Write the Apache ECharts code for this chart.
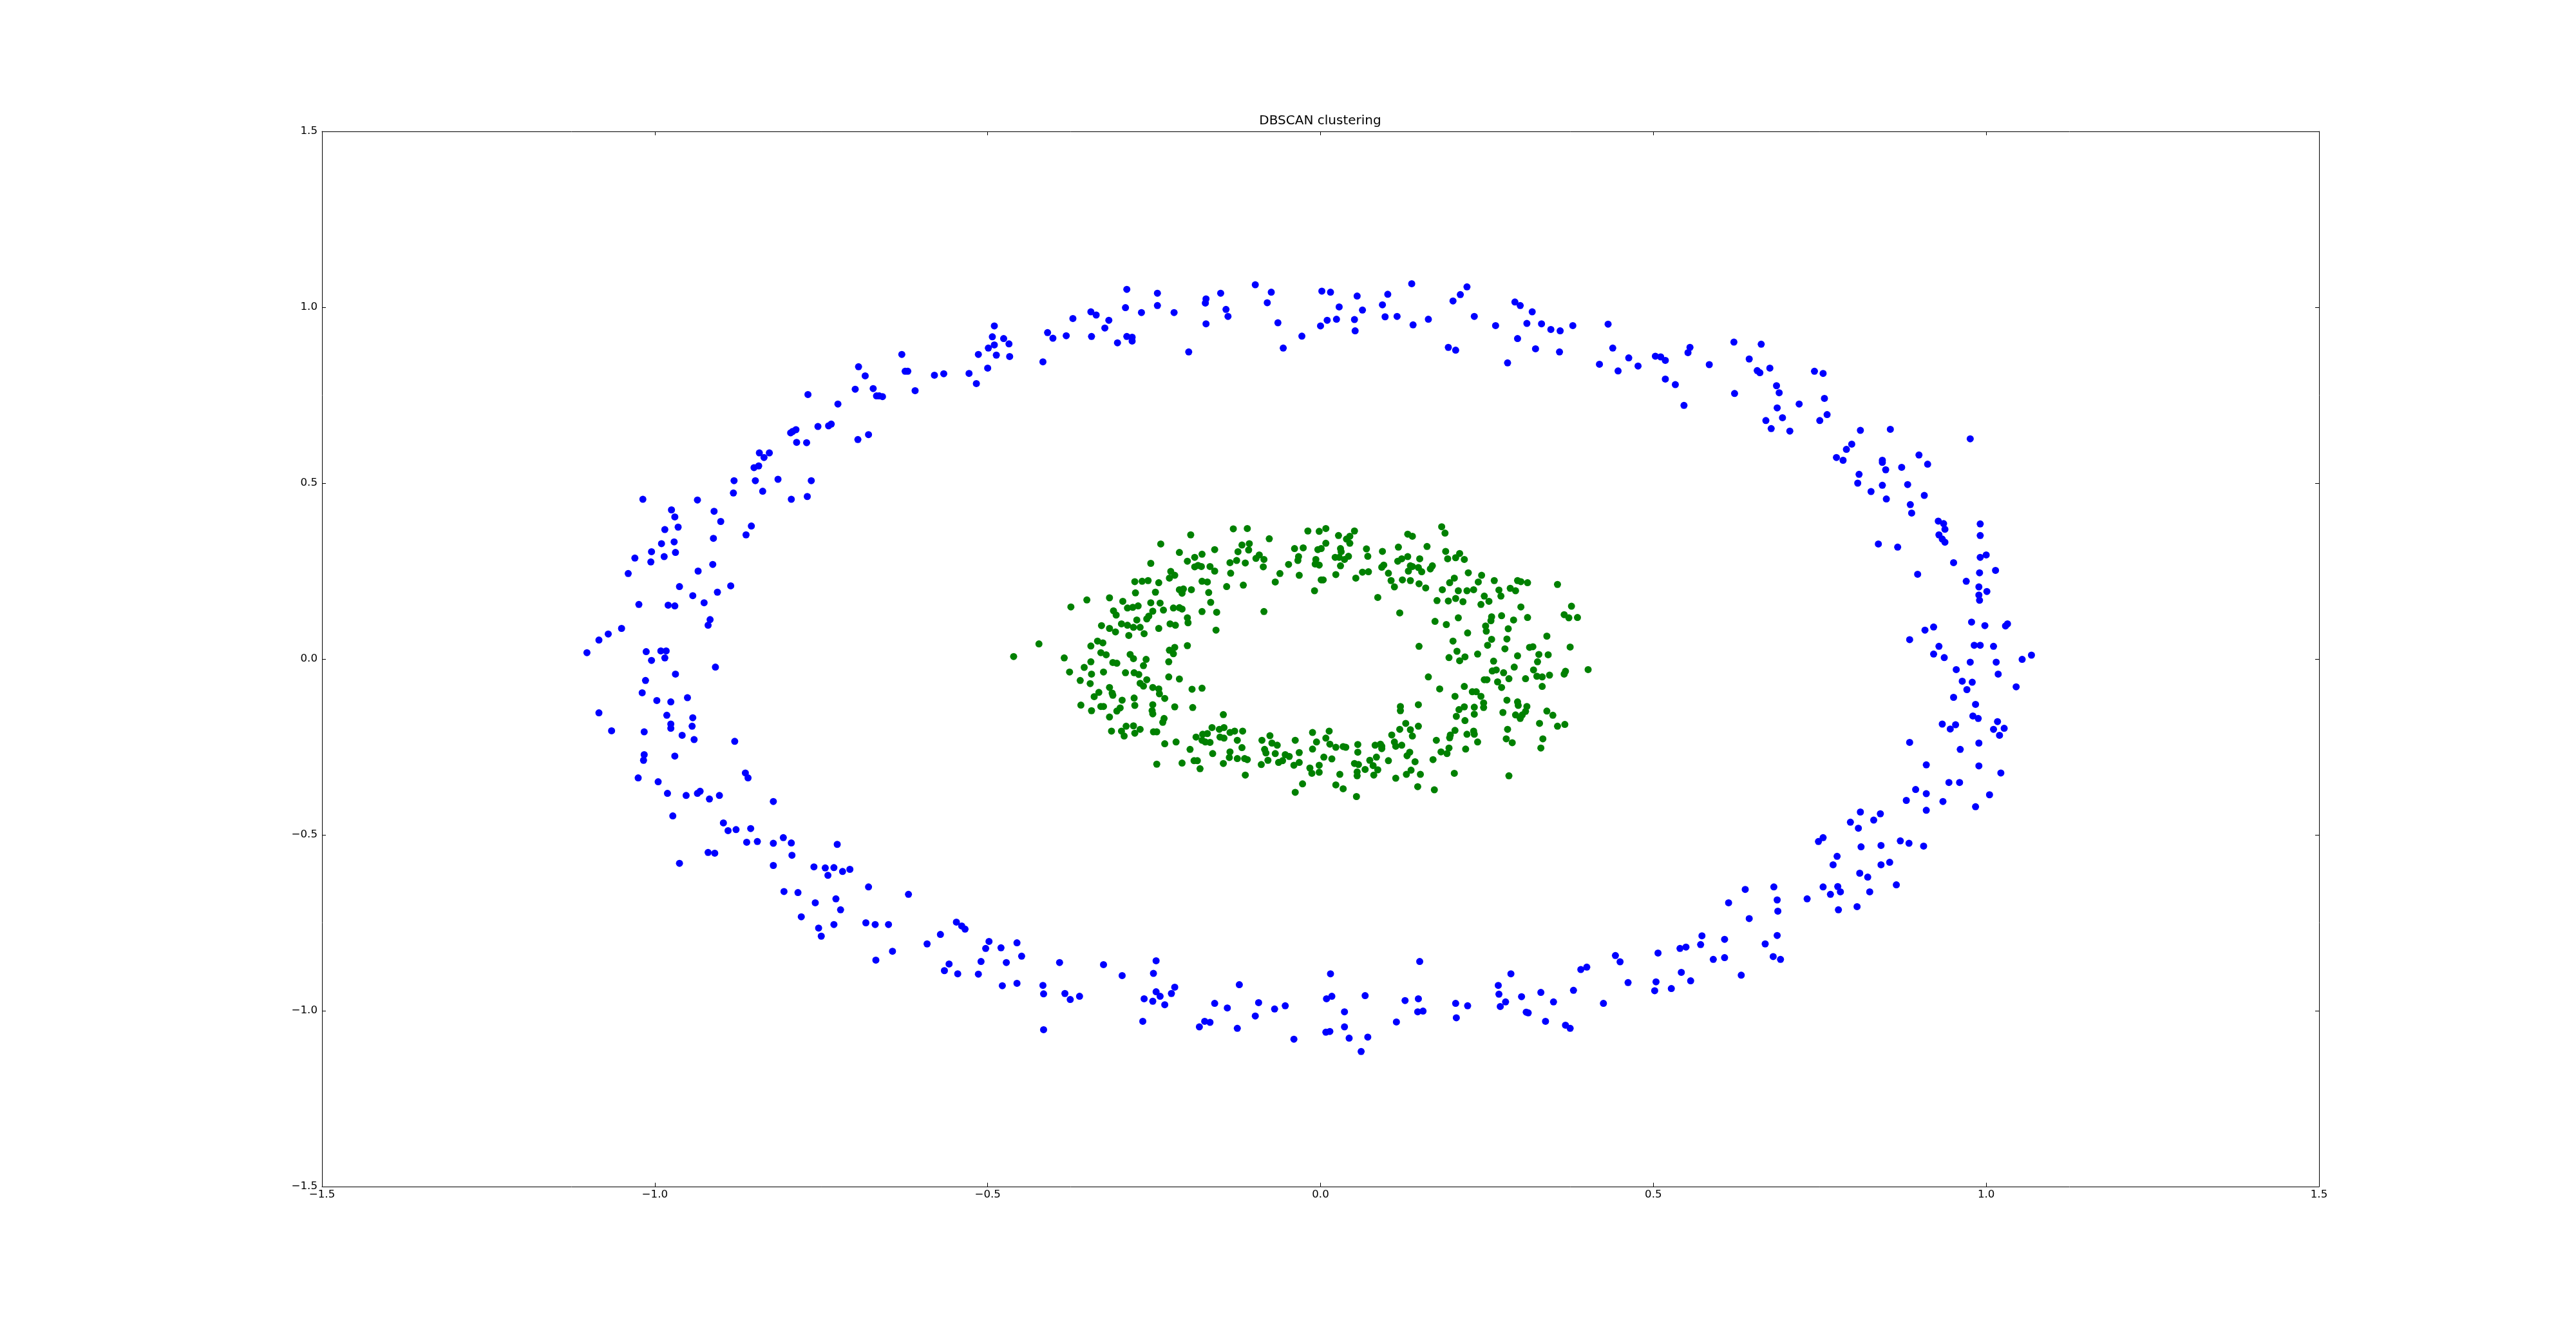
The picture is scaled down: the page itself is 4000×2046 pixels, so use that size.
<!DOCTYPE html>
<html>
<head>
<meta charset="utf-8">
<script src="https://cdn.jsdelivr.net/npm/echarts@6/dist/echarts.min.js"></script>
<style>html,body{margin:0;padding:0;background:#fff}#chart{width:4000px;height:2046px}</style>
</head>
<body>
<div id="chart"></div>
<script>
const titleText = 'DBSCAN clustering';
const axisMin = -1.5;
const axisMax = 1.5;
const tickStep = 0.5;
const clusterColors = ['#0000ff', '#008000'];

// cluster 0 (outer ring, blue)
const outerCluster = [
[-0.490,0.947],[-0.410,0.928],[-0.402,0.912],[-0.493,0.916],[-0.476,0.911],[-0.490,0.893],[-0.468,0.896],[-0.499,0.884],[-0.514,0.866],[-0.487,0.864],[-0.467,0.860],[-0.417,0.845],[-0.629,0.866],[-0.694,0.831],[-0.624,0.818],[-0.620,0.818],[-0.684,0.805],[-0.580,0.807],[-0.566,0.811],[-0.528,0.812],[-0.500,0.827],[-0.517,0.783],[-0.699,0.767],[-0.672,0.769],[-0.667,0.748],[-0.663,0.748],[-0.658,0.746],[-0.609,0.763],[-0.770,0.752],[-0.725,0.725],[-0.755,0.661],[-0.739,0.663],[-0.735,0.668],[-0.796,0.643],[-0.793,0.647],[-0.788,0.652],[-0.787,0.616],[-0.772,0.615],[-0.695,0.624],[-0.679,0.638],[-0.843,0.586],[-0.828,0.586],[-0.836,0.573],[-0.851,0.544],[-0.844,0.549],[-0.881,0.507],[-0.849,0.507],[-0.815,0.511],[-0.765,0.507],[-0.882,0.472],[-0.838,0.477],[-0.795,0.454],[-0.771,0.462],[-1.018,0.454],[-0.936,0.452],[-0.975,0.424],[-0.970,0.404],[-0.911,0.420],[-0.901,0.391],[-0.855,0.378],[-0.863,0.353],[-0.985,0.368],[-0.965,0.375],[-0.990,0.328],[-0.971,0.333],[-0.912,0.343],[-1.005,0.305],[-0.969,0.303],[-1.030,0.287],[-0.986,0.291],[-1.006,0.276],[-1.040,0.243],[-0.913,0.269],[-0.935,0.250],[-0.963,0.206],[-0.886,0.208],[-0.906,0.190],[-0.943,0.180],[-0.926,0.160],[-1.024,0.155],[-0.980,0.153],[-0.970,0.151],[-0.917,0.112],[-0.920,0.096],[-1.050,0.087],[-1.070,0.071],[-1.084,0.054],[-1.102,0.018],[-1.013,0.021],[-0.991,0.023],[-0.983,0.023],[-1.005,-0.004],[-0.985,0.003],
[-0.382,0.919],[-0.372,0.968],[-0.345,0.987],[-0.337,0.978],[-0.344,0.917],[-0.318,0.963],[-0.324,0.941],[-0.305,0.899],[-0.291,1.051],[-0.293,0.999],[-0.291,0.917],[-0.283,0.915],[-0.283,0.904],[-0.269,0.985],[-0.245,1.040],[-0.245,1.005],[-0.220,0.985],[-0.198,0.873],[-0.173,1.012],[-0.172,1.024],[-0.172,0.953],[-0.150,1.040],[-0.142,0.994],[-0.139,0.974],[-0.098,1.064],[-0.074,1.043],[-0.080,1.013],[-0.064,0.956],[-0.056,0.884],[-0.028,0.918],[0.002,1.046],[0.015,1.043],[0.028,1.001],[0.000,0.947],[0.010,0.963],[0.024,0.966],[0.055,1.032],[0.063,0.992],[0.051,0.965],[0.052,0.933],[0.101,1.037],[0.093,1.007],[0.097,0.973],[0.115,0.974],[0.137,1.067],[0.139,0.950],[0.162,0.966],[0.210,1.036],[0.220,1.058],[0.199,1.018],[0.231,0.974],[0.192,0.886],[0.203,0.878],[0.263,0.948],[0.292,1.015],[0.300,1.005],[0.318,0.987],[0.310,0.954],[0.296,0.911],[0.332,0.953],[0.323,0.882],[0.281,0.842],
[0.346,0.937],[0.360,0.933],[0.379,0.948],[0.432,0.952],[0.359,0.873],[0.439,0.884],[0.419,0.838],[0.447,0.819],[0.463,0.856],[0.477,0.833],[0.503,0.861],[0.511,0.859],[0.518,0.849],[0.552,0.871],[0.555,0.886],[0.518,0.796],[0.533,0.780],[0.546,0.721],[0.584,0.837],[0.621,0.901],[0.662,0.895],[0.622,0.755],[0.644,0.853],[0.656,0.820],[0.660,0.814],[0.675,0.827],[0.685,0.777],[0.689,0.757],[0.686,0.714],[0.719,0.725],[0.694,0.686],[0.669,0.678],[0.677,0.655],[0.705,0.648],[0.742,0.818],[0.755,0.812],[0.757,0.741],[0.761,0.695],[0.750,0.678],[0.811,0.650],[0.856,0.653],[0.798,0.611],[0.790,0.596],[0.775,0.573],[0.785,0.565],[0.844,0.565],[0.844,0.559],[0.849,0.538],[0.873,0.545],[0.899,0.580],[0.912,0.554],[0.976,0.626],[0.809,0.525],[0.807,0.500],[0.827,0.476],[0.844,0.494],[0.850,0.455],[0.882,0.496],[0.907,0.465],[0.886,0.439],[0.888,0.415],[0.928,0.392],[0.936,0.385],[0.938,0.369],[0.929,0.353],[0.934,0.341],[0.938,0.332],[0.991,0.384],[0.991,0.351],[0.838,0.327],[0.867,0.318],[1.000,0.296],[0.991,0.289],[0.951,0.274],[0.897,0.241],[0.990,0.245],[1.014,0.252],[0.970,0.221],[0.989,0.205],[1.001,0.192],[0.989,0.182],[0.990,0.167],[0.978,0.105],[0.998,0.095],[1.029,0.094],[1.032,0.100],[0.908,0.082],[0.921,0.091],[0.885,0.055],[0.929,0.036],[0.982,0.039],[0.991,0.039],[1.011,0.036],[0.921,0.014],[0.937,0.004],[0.976,-0.009],[1.015,-0.009],[1.054,-0.001],[1.068,0.011],
[-0.909,-0.023],[-0.969,-0.043],[-1.014,-0.061],[-1.019,-0.096],[-0.997,-0.118],[-0.976,-0.122],[-0.951,-0.110],[-1.084,-0.153],[-0.982,-0.160],[-0.943,-0.167],[-0.976,-0.185],[-0.976,-0.197],[-0.944,-0.191],[-1.065,-0.204],[-1.016,-0.207],[-0.959,-0.217],[-0.941,-0.229],[-0.880,-0.234],[-1.016,-0.272],[-1.017,-0.288],[-0.970,-0.276],[-0.864,-0.324],[-0.860,-0.338],[-1.025,-0.338],[-0.995,-0.349],[-0.981,-0.382],[-0.953,-0.388],[-0.936,-0.382],[-0.932,-0.376],[-0.918,-0.398],[-0.903,-0.388],[-0.822,-0.405],[-0.973,-0.446],[-0.897,-0.466],[-0.890,-0.488],[-0.878,-0.485],[-0.856,-0.482],[-0.862,-0.521],[-0.846,-0.519],[-0.822,-0.524],[-0.807,-0.508],[-0.795,-0.523],[-0.794,-0.558],[-0.726,-0.527],[-0.920,-0.550],[-0.910,-0.552],[-0.963,-0.581],[-0.822,-0.587],[-0.761,-0.591],[-0.744,-0.594],[-0.731,-0.593],[-0.740,-0.615],[-0.718,-0.604],[-0.707,-0.598],[-0.679,-0.648],[-0.619,-0.669],[-0.806,-0.661],[-0.785,-0.664],[-0.759,-0.693],[-0.728,-0.682],[-0.721,-0.713],[-0.780,-0.733],[-0.754,-0.765],[-0.750,-0.788],[-0.731,-0.755],[-0.683,-0.750],[-0.669,-0.755],[-0.649,-0.755],[-0.547,-0.748],[-0.539,-0.759],[-0.534,-0.768],[-0.571,-0.783],[-0.591,-0.810],[-0.643,-0.831],[-0.668,-0.856],[-0.498,-0.803],[-0.503,-0.823],[-0.480,-0.821],[-0.456,-0.807],[-0.449,-0.845],[-0.510,-0.860],[-0.472,-0.863],[-0.558,-0.867],[-0.565,-0.886],[-0.545,-0.895],[-0.514,-0.896],[-0.478,-0.929],[-0.456,-0.922],[-0.417,-0.928],[-0.416,-0.952],[-0.416,-1.054],
[-0.392,-0.863],[-0.326,-0.869],[-0.247,-0.858],[-0.298,-0.900],[-0.251,-0.894],[-0.384,-0.951],[-0.376,-0.968],[-0.362,-0.959],[-0.247,-0.946],[-0.241,-0.959],[-0.265,-0.966],[-0.252,-0.973],[-0.234,-0.983],[-0.224,-0.951],[-0.219,-0.933],[-0.267,-1.030],[-0.122,-0.926],[-0.159,-0.979],[-0.140,-0.992],[-0.093,-0.977],[-0.053,-0.986],[-0.069,-0.995],[-0.098,-1.015],[-0.174,-1.030],[-0.166,-1.033],[-0.182,-1.046],[-0.125,-1.050],[-0.040,-1.081],[0.015,-0.895],[0.017,-0.959],[0.009,-0.966],[0.067,-0.957],[0.036,-1.003],[0.036,-1.046],[0.008,-1.061],[0.014,-1.059],[0.043,-1.078],[0.071,-1.075],[0.061,-1.116],[0.149,-0.860],[0.127,-0.971],[0.147,-0.966],[0.146,-1.003],[0.154,-1.001],[0.114,-1.032],[0.203,-0.979],[0.221,-0.986],[0.204,-1.020],[0.286,-0.895],[0.267,-0.928],[0.268,-0.953],[0.278,-0.975],[0.270,-0.988],[0.302,-0.960],[0.331,-0.948],[0.309,-1.004],[0.312,-1.006],[0.338,-1.030],
[0.955,-0.030],[1.018,-0.043],[0.964,-0.063],[0.979,-0.066],[0.971,-0.087],[1.045,-0.079],[0.951,-0.109],[0.984,-0.129],[0.980,-0.162],[0.988,-0.169],[0.934,-0.185],[0.946,-0.199],[0.954,-0.187],[1.017,-0.178],[1.011,-0.200],[1.027,-0.197],[1.020,-0.217],[0.885,-0.237],[0.989,-0.239],[0.961,-0.257],[0.910,-0.301],[0.989,-0.304],[1.022,-0.324],[0.944,-0.351],[0.960,-0.351],[0.894,-0.371],[0.910,-0.383],[0.880,-0.402],[0.935,-0.405],[1.005,-0.386],[0.910,-0.430],[0.984,-0.420],[0.811,-0.435],[0.841,-0.440],[0.796,-0.464],[0.808,-0.481],[0.831,-0.458],[0.755,-0.508],[0.748,-0.519],[0.812,-0.534],[0.842,-0.530],[0.871,-0.517],[0.884,-0.524],[0.906,-0.532],[0.776,-0.561],[0.770,-0.585],[0.842,-0.585],[0.855,-0.578],[0.810,-0.609],[0.822,-0.620],[0.755,-0.648],[0.777,-0.647],[0.766,-0.669],[0.781,-0.662],[0.825,-0.662],[0.865,-0.642],[0.778,-0.713],[0.806,-0.704],[0.731,-0.682],[0.686,-0.685],[0.681,-0.648],[0.687,-0.717],[0.638,-0.655],[0.613,-0.693],[0.644,-0.738],[0.686,-0.786],[0.668,-0.810],[0.680,-0.846],[0.691,-0.854],[0.573,-0.787],[0.607,-0.797],[0.571,-0.812],[0.540,-0.823],[0.549,-0.819],[0.507,-0.836],[0.443,-0.843],[0.450,-0.861],[0.607,-0.849],[0.590,-0.854],[0.632,-0.899],[0.542,-0.891],[0.556,-0.915],[0.504,-0.918],[0.502,-0.943],[0.527,-0.937],[0.462,-0.920],[0.400,-0.876],[0.391,-0.883],[0.380,-0.942],[0.425,-0.979],[0.350,-0.975],[0.368,-1.041],[0.375,-1.050]
];

// cluster 1 (inner ring, green)
const innerCluster = [
[-0.461,0.007],[-0.423,0.043],[-0.375,0.148],[-0.351,0.168],[-0.385,0.003],[-0.377,-0.037],[-0.361,-0.061],[-0.346,-0.070],[-0.355,-0.024],[-0.345,-0.008],[-0.344,-0.043],[-0.326,-0.037],[-0.345,0.037],[-0.335,0.051],[-0.327,0.046],[-0.330,0.018],[-0.322,0.012],[-0.360,-0.131],[-0.344,-0.147],[-0.340,-0.107],[-0.333,-0.095],[-0.317,-0.081],[-0.313,-0.097],[-0.312,-0.103],[-0.298,-0.117],[-0.317,-0.165],[-0.330,-0.135],[-0.326,-0.135],[-0.306,-0.148],[-0.301,-0.139],[-0.314,-0.205],[-0.299,-0.205],[-0.295,-0.219],[-0.292,-0.191],[-0.281,-0.190],[-0.279,-0.211],[-0.271,-0.200],[-0.280,-0.111],[-0.279,-0.132],[-0.252,-0.130],[-0.253,-0.147],[-0.252,-0.156],[-0.237,-0.180],[-0.235,-0.169],[-0.251,-0.207],[-0.246,-0.207],[-0.234,-0.241],[-0.217,-0.236],[-0.246,-0.299],[-0.219,-0.136],[-0.192,-0.138],[-0.193,-0.086],[-0.178,-0.083],[-0.212,-0.057],[-0.228,-0.051],[-0.228,-0.008],[-0.221,0.015],[-0.227,0.025],[-0.219,0.033],[-0.200,0.038],[-0.286,0.013],[-0.281,0.001],[-0.262,-0.001],[-0.266,-0.019],[-0.293,-0.039],[-0.280,-0.039],[-0.273,-0.044],[-0.261,-0.059],[-0.271,-0.069],[-0.266,-0.077],[-0.252,-0.081],[-0.243,-0.085],[-0.242,-0.099],[-0.234,-0.112],[-0.312,-0.010],[-0.306,-0.012],[-0.329,0.095],[-0.317,0.087],[-0.308,0.077],[-0.299,0.100],[-0.290,0.096],[-0.281,0.090],[-0.271,0.090],[-0.288,0.067],[-0.265,0.072],[-0.243,0.087],[-0.276,0.111],[-0.261,0.114],[-0.258,0.122],[-0.252,0.136],[-0.236,0.139],[-0.255,0.160],[-0.241,0.159],[-0.221,0.145],[-0.212,0.146],[-0.208,0.142],[-0.226,0.100],[-0.218,0.096],[-0.200,0.117],[-0.199,0.103],[-0.178,0.135],[-0.156,0.133],[-0.157,0.082],[-0.165,0.161],[-0.168,0.189],[-0.248,0.190],[-0.278,0.188],[-0.317,0.174],[-0.297,0.164],[-0.311,0.137],[-0.307,0.125],[-0.290,0.145],[-0.282,0.147],[-0.274,0.151],[-0.279,0.220],[-0.268,0.221],[-0.259,0.223],[-0.243,0.217],[-0.255,0.272],[-0.240,0.327],[-0.212,0.303],[-0.195,0.353],[-0.200,0.278],[-0.189,0.289],[-0.178,0.298],[-0.189,0.262],[-0.184,0.266],[-0.179,0.263],[-0.166,0.263],[-0.159,0.250],[-0.159,0.311],[-0.227,0.230],[-0.225,0.249],[-0.219,0.238],[-0.212,0.197],[-0.206,0.199],[-0.208,0.187],[-0.194,0.197],[-0.178,0.221],[-0.170,0.219],[-0.141,0.206],[-0.116,0.210],[-0.135,0.244],[-0.136,0.274],[-0.126,0.280],[-0.113,0.273],[-0.124,0.305],[-0.118,0.324],[-0.108,0.310],[-0.107,0.328],[-0.131,0.370],[-0.110,0.371],[-0.077,0.342],[-0.097,0.286],[-0.092,0.296],[-0.085,0.283],[-0.086,0.262],[-0.068,0.219],[-0.061,0.243],[-0.048,0.269],[-0.039,0.314],[-0.085,0.135],[-0.146,-0.158],[-0.163,-0.195],[-0.152,-0.200],[-0.145,-0.195],[-0.136,-0.209],[-0.129,-0.205],[-0.117,-0.205],[-0.187,-0.222],[-0.177,-0.214],[-0.170,-0.212],[-0.178,-0.231],[-0.173,-0.236],[-0.166,-0.237],[-0.151,-0.222],[-0.145,-0.225],[-0.125,-0.231],[-0.118,-0.252],[-0.136,-0.264],[-0.137,-0.280],[-0.125,-0.283],[-0.114,-0.283],[-0.110,-0.286],[-0.196,-0.257],[-0.162,-0.269],[-0.190,-0.289],[-0.185,-0.289],[-0.181,-0.312],[-0.208,-0.296],[-0.146,-0.297],[-0.113,-0.330],[-0.088,-0.231],[-0.076,-0.218],[-0.073,-0.239],[-0.065,-0.245],[-0.084,-0.257],[-0.082,-0.267],[-0.068,-0.269],[-0.079,-0.288],[-0.089,-0.300],[-0.063,-0.294],[-0.057,-0.289],[-0.053,-0.272],[-0.047,-0.277],[-0.038,-0.231],[-0.040,-0.302],[-0.038,-0.379],
[-0.019,0.364],[-0.002,0.363],[0.008,0.371],[0.027,0.351],[0.039,0.341],[0.044,0.349],[0.051,0.364],[0.044,0.329],[0.008,0.329],[-0.026,0.316],[-0.033,0.291],[-0.034,0.280],[-0.032,0.238],[-0.007,0.283],[-0.002,0.267],[-0.008,0.270],[-0.004,0.311],[0.001,0.314],[0.030,0.314],[0.031,0.305],[0.022,0.289],[0.028,0.289],[0.036,0.283],[0.042,0.292],[0.030,0.265],[0.023,0.240],[0.001,0.225],[0.004,0.225],[-0.009,0.194],[0.053,0.230],[0.063,0.247],[0.072,0.248],[0.069,0.313],[0.071,0.292],[0.093,0.306],[0.092,0.261],[0.095,0.267],[0.102,0.244],[0.106,0.223],[0.111,0.205],[0.123,0.225],[0.117,0.318],[0.116,0.278],[0.122,0.285],[0.131,0.291],[0.131,0.355],[0.138,0.349],[0.160,0.320],[0.149,0.285],[0.135,0.265],[0.138,0.263],[0.132,0.250],[0.135,0.223],[0.147,0.260],[0.152,0.248],[0.148,0.214],[0.158,0.202],[0.165,0.256],[0.168,0.265],[0.182,0.376],[0.187,0.358],[0.188,0.306],[0.191,0.285],[0.203,0.288],[0.209,0.300],[0.216,0.283],[0.222,0.245],[0.242,0.238],[0.237,0.219],[0.201,0.230],[0.194,0.217],[0.183,0.197],[0.175,0.166],[0.192,0.165],[0.203,0.172],[0.207,0.194],[0.214,0.163],[0.220,0.194],[0.230,0.197],[0.261,0.223],[0.246,0.179],[0.241,0.155],[0.253,0.164],[0.268,0.196],[0.271,0.179],[0.285,0.201],[0.293,0.194],[0.296,0.223],[0.301,0.220],[0.311,0.217],[0.356,0.212],[0.086,0.175],[0.119,0.131],
[0.172,0.107],[0.189,0.098],[0.207,0.117],[0.221,0.074],[0.148,0.036],[0.199,0.051],[0.205,0.022],[0.193,0.004],[0.209,-0.005],[0.217,0.006],[0.236,0.014],[0.248,0.094],[0.249,0.079],[0.257,0.056],[0.251,0.039],[0.257,0.120],[0.256,0.109],[0.272,0.123],[0.290,0.111],[0.301,0.148],[0.311,0.118],[0.282,0.086],[0.280,0.057],[0.277,0.029],[0.296,0.009],[0.291,-0.023],[0.260,-0.006],[0.258,-0.034],[0.264,-0.031],[0.275,-0.039],[0.283,-0.056],[0.246,-0.059],[0.250,-0.059],[0.266,-0.065],[0.272,-0.081],[0.314,0.033],[0.319,0.035],[0.328,0.013],[0.326,-0.008],[0.342,0.012],[0.340,0.065],[0.320,-0.031],[0.325,-0.049],[0.333,-0.051],[0.344,-0.046],[0.333,-0.078],[0.308,-0.056],[0.366,0.126],[0.373,0.117],[0.377,0.150],[0.386,0.118],[0.375,0.034],[0.366,-0.043],[0.368,-0.035],[0.402,-0.030],[0.162,-0.051],[0.179,-0.085],[0.216,-0.078],[0.228,-0.093],[0.234,-0.093],[0.241,-0.106],[0.245,-0.125],[0.245,-0.138],[0.202,-0.106],[0.208,-0.144],[0.216,-0.136],[0.204,-0.163],[0.217,-0.175],[0.231,-0.137],[0.231,-0.157],[0.280,-0.117],[0.274,-0.152],[0.296,-0.122],[0.297,-0.132],[0.310,-0.135],[0.308,-0.149],[0.293,-0.159],[0.300,-0.169],[0.303,-0.159],[0.340,-0.148],[0.349,-0.160],[0.329,-0.183],[0.356,-0.191],[0.367,-0.186],[0.281,-0.200],[0.279,-0.227],[0.288,-0.238],[0.334,-0.227],[0.331,-0.253],[0.236,-0.236],[0.231,-0.214],[0.230,-0.205],[0.220,-0.214],[0.202,-0.203],[0.195,-0.216],[0.194,-0.224],[0.218,-0.256],[0.193,-0.253],[0.190,-0.269],[0.181,-0.264],[0.174,-0.231],[0.169,-0.286],[0.201,-0.325],[0.283,-0.332],
[0.120,-0.135],[0.120,-0.147],[0.147,-0.130],[0.128,-0.183],[0.119,-0.200],[0.135,-0.201],[0.138,-0.219],[0.147,-0.191],[0.107,-0.216],[0.111,-0.236],[0.113,-0.248],[0.122,-0.245],[0.134,-0.265],[0.130,-0.275],[0.142,-0.292],[0.136,-0.316],[0.129,-0.328],[0.150,-0.328],[0.146,-0.363],[0.171,-0.372],[0.113,-0.339],[0.102,-0.289],[0.084,-0.279],[0.082,-0.245],[0.090,-0.242],[0.092,-0.248],[0.092,-0.255],[0.074,-0.288],[0.079,-0.303],[0.086,-0.315],[0.080,-0.330],[0.067,-0.314],[0.051,-0.297],[0.057,-0.300],[0.055,-0.321],[0.055,-0.332],[0.056,-0.265],[0.056,-0.243],[0.054,-0.391],[0.034,-0.369],[0.023,-0.358],[0.029,-0.328],[0.038,-0.251],[0.034,-0.249],[0.023,-0.251],[0.014,-0.242],[0.013,-0.205],[0.008,-0.225],[0.017,-0.284],[0.005,-0.279],[-0.006,-0.236],[-0.012,-0.209],[-0.012,-0.256],[-0.032,-0.266],[-0.032,-0.294],[-0.002,-0.302],[-0.002,-0.322],[-0.016,-0.310],[-0.013,-0.325],[-0.027,-0.355]
];

const FONT = 'DejaVu Sans';
const fmt = v => v.toFixed(1).replace('-', '\u2212');

function makeAxis(type, pos, showLabel) {
  const isX = type === 'x';
  return {
    type: 'value',
    position: pos,
    min: axisMin,
    max: axisMax,
    interval: tickStep,
    splitLine: { show: false },
    axisLine: { show: true, onZero: false, lineStyle: { color: '#000', width: 1 } },
    axisTick: { show: true, inside: true, length: 6, lineStyle: { color: '#000', width: 1 } },
    axisLabel: {
      show: showLabel,
      showMinLabel: true,
      showMaxLabel: true,
      formatter: fmt,
      color: '#000',
      fontFamily: FONT,
      fontSize: 16.67,
      margin: isX ? 4 : 7
    }
  };
}

const chart = echarts.init(document.getElementById('chart'), null, { renderer: 'canvas' });
chart.setOption({
  animation: false,
  backgroundColor: '#ffffff',
  title: {
    text: titleText,
    left: 2050,
    top: 178,
    textAlign: 'center',
    padding: 0,
    textStyle: { fontFamily: FONT, fontSize: 20, fontWeight: 'normal', color: '#000' }
  },
  grid: { left: 500, right: 399, top: 204, bottom: 204, containLabel: false },
  xAxis: [makeAxis('x', 'bottom', true), makeAxis('x', 'top', false)],
  yAxis: [makeAxis('y', 'left', true), makeAxis('y', 'right', false)],
  series: [
    { type: 'scatter', xAxisIndex: 0, yAxisIndex: 0, data: outerCluster, symbol: 'circle', symbolSize: 11,
      itemStyle: { color: clusterColors[0], opacity: 1 } },
    { type: 'scatter', xAxisIndex: 0, yAxisIndex: 0, data: innerCluster, symbol: 'circle', symbolSize: 11,
      itemStyle: { color: clusterColors[1], opacity: 1 } }
  ]
});
</script>
</body>
</html>
